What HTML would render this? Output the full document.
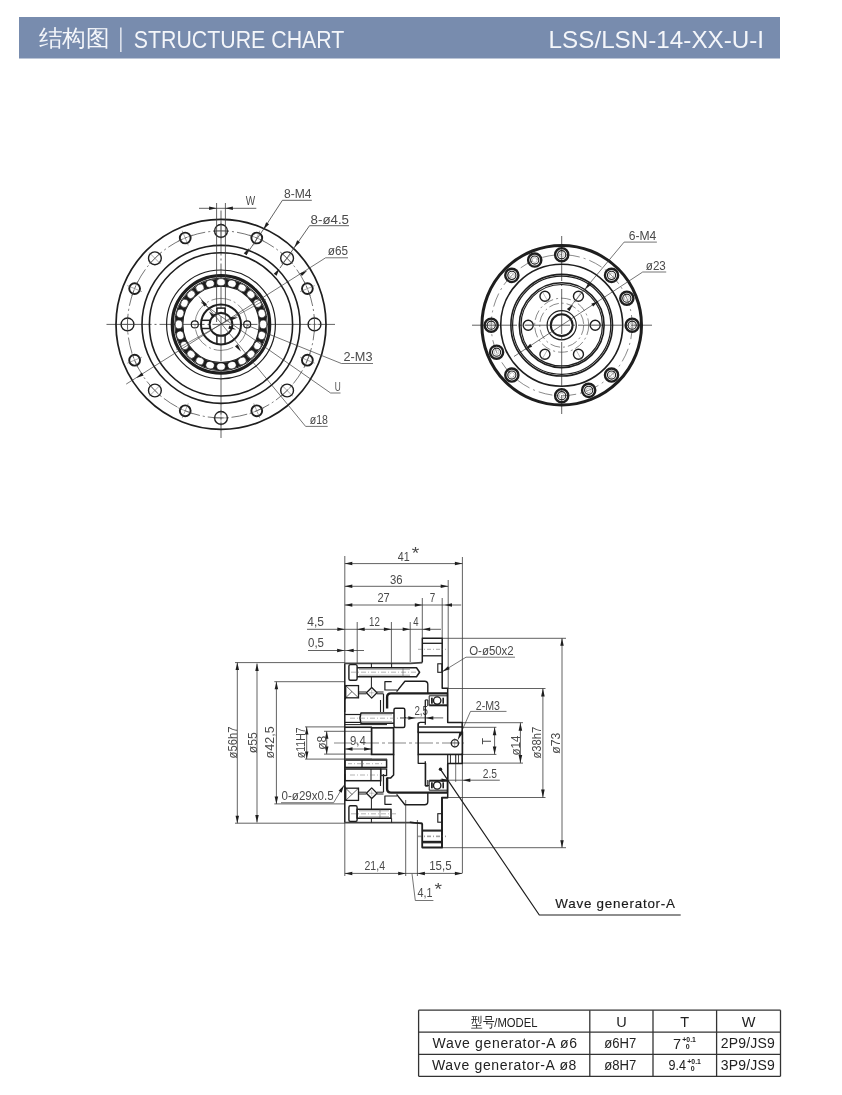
<!DOCTYPE html>
<html><head><meta charset="utf-8"><style>
html,body{margin:0;padding:0;background:#fff;width:842px;height:1095px;overflow:hidden}
svg{display:block;font-family:"Liberation Sans",sans-serif;will-change:transform}
</style></head><body>
<svg width="842" height="1095" viewBox="0 0 842 1095">
<rect width="842" height="1095" fill="#fff"/>
<rect x="19" y="17" width="761" height="41.5" fill="#788cae"/>
<text x="38.5" y="46.3" font-size="23" fill="#f4f6fa" text-anchor="start" font-family="Liberation Sans" font-weight="normal" textLength="71" lengthAdjust="spacingAndGlyphs">结构图</text>
<rect x="120.2" y="27.5" width="1.3" height="24.5" fill="#f4f6fa"/>
<text x="133.8" y="48" font-size="24.2" fill="#f4f6fa" text-anchor="start" font-family="Liberation Sans" font-weight="normal" textLength="210.5" lengthAdjust="spacingAndGlyphs">STRUCTURE CHART</text>
<text x="548.6" y="47.9" font-size="24" fill="#f4f6fa" text-anchor="start" font-family="Liberation Sans" font-weight="normal" textLength="215.5" lengthAdjust="spacingAndGlyphs">LSS/LSN-14-XX-U-I</text>
<line x1="106.5" y1="324.4" x2="335" y2="324.4" stroke="#3a3a3a" stroke-width="0.8" stroke-dasharray="45 3 2 3"/>
<line x1="221" y1="210.5" x2="221" y2="438" stroke="#3a3a3a" stroke-width="0.8" stroke-dasharray="45 3 2 3"/>
<circle cx="221" cy="324.4" r="105" stroke="#1e1e1e" stroke-width="1.7" fill="none"/>
<circle cx="221" cy="324.4" r="79" stroke="#1e1e1e" stroke-width="1.6" fill="none"/>
<circle cx="221" cy="324.4" r="71.6" stroke="#1e1e1e" stroke-width="1.6" fill="none"/>
<circle cx="221" cy="324.4" r="54.4" stroke="#1e1e1e" stroke-width="1.2" fill="none"/>
<circle cx="221" cy="324.4" r="48.7" stroke="#1e1e1e" stroke-width="3.2" fill="none"/>
<circle cx="221" cy="324.4" r="46.3" stroke="#1e1e1e" stroke-width="1" fill="none"/>
<circle cx="221" cy="324.4" r="42.1" stroke="#1c1c1c" stroke-width="7.2" fill="none"/>
<circle cx="221" cy="324.4" r="38.2" stroke="#1e1e1e" stroke-width="1.2" fill="none"/>
<ellipse cx="263.2" cy="324.4" rx="3.6" ry="4.3" transform="rotate(0 263.2 324.4)" fill="#fff" stroke="#1c1c1c" stroke-width="0.6"/>
<ellipse cx="261.76" cy="335.32" rx="3.6" ry="4.3" transform="rotate(15 261.76 335.32)" fill="#fff" stroke="#1c1c1c" stroke-width="0.6"/>
<ellipse cx="257.55" cy="345.5" rx="3.6" ry="4.3" transform="rotate(30 257.55 345.5)" fill="#fff" stroke="#1c1c1c" stroke-width="0.6"/>
<ellipse cx="250.84" cy="354.24" rx="3.6" ry="4.3" transform="rotate(45 250.84 354.24)" fill="#fff" stroke="#1c1c1c" stroke-width="0.6"/>
<ellipse cx="242.1" cy="360.95" rx="3.6" ry="4.3" transform="rotate(60 242.1 360.95)" fill="#fff" stroke="#1c1c1c" stroke-width="0.6"/>
<ellipse cx="231.92" cy="365.16" rx="3.6" ry="4.3" transform="rotate(75 231.92 365.16)" fill="#fff" stroke="#1c1c1c" stroke-width="0.6"/>
<ellipse cx="221" cy="366.6" rx="3.6" ry="4.3" transform="rotate(90 221 366.6)" fill="#fff" stroke="#1c1c1c" stroke-width="0.6"/>
<ellipse cx="210.08" cy="365.16" rx="3.6" ry="4.3" transform="rotate(105 210.08 365.16)" fill="#fff" stroke="#1c1c1c" stroke-width="0.6"/>
<ellipse cx="199.9" cy="360.95" rx="3.6" ry="4.3" transform="rotate(120 199.9 360.95)" fill="#fff" stroke="#1c1c1c" stroke-width="0.6"/>
<ellipse cx="191.16" cy="354.24" rx="3.6" ry="4.3" transform="rotate(135 191.16 354.24)" fill="#fff" stroke="#1c1c1c" stroke-width="0.6"/>
<ellipse cx="184.45" cy="345.5" rx="3.6" ry="4.3" transform="rotate(150 184.45 345.5)" fill="#fff" stroke="#1c1c1c" stroke-width="0.6"/>
<ellipse cx="180.24" cy="335.32" rx="3.6" ry="4.3" transform="rotate(165 180.24 335.32)" fill="#fff" stroke="#1c1c1c" stroke-width="0.6"/>
<ellipse cx="178.8" cy="324.4" rx="3.6" ry="4.3" transform="rotate(180 178.8 324.4)" fill="#fff" stroke="#1c1c1c" stroke-width="0.6"/>
<ellipse cx="180.24" cy="313.48" rx="3.6" ry="4.3" transform="rotate(195 180.24 313.48)" fill="#fff" stroke="#1c1c1c" stroke-width="0.6"/>
<ellipse cx="184.45" cy="303.3" rx="3.6" ry="4.3" transform="rotate(210 184.45 303.3)" fill="#fff" stroke="#1c1c1c" stroke-width="0.6"/>
<ellipse cx="191.16" cy="294.56" rx="3.6" ry="4.3" transform="rotate(225 191.16 294.56)" fill="#fff" stroke="#1c1c1c" stroke-width="0.6"/>
<ellipse cx="199.9" cy="287.85" rx="3.6" ry="4.3" transform="rotate(240 199.9 287.85)" fill="#fff" stroke="#1c1c1c" stroke-width="0.6"/>
<ellipse cx="210.08" cy="283.64" rx="3.6" ry="4.3" transform="rotate(255 210.08 283.64)" fill="#fff" stroke="#1c1c1c" stroke-width="0.6"/>
<ellipse cx="221" cy="282.2" rx="3.6" ry="4.3" transform="rotate(270 221 282.2)" fill="#fff" stroke="#1c1c1c" stroke-width="0.6"/>
<ellipse cx="231.92" cy="283.64" rx="3.6" ry="4.3" transform="rotate(285 231.92 283.64)" fill="#fff" stroke="#1c1c1c" stroke-width="0.6"/>
<ellipse cx="242.1" cy="287.85" rx="3.6" ry="4.3" transform="rotate(300 242.1 287.85)" fill="#fff" stroke="#1c1c1c" stroke-width="0.6"/>
<ellipse cx="250.84" cy="294.56" rx="3.6" ry="4.3" transform="rotate(315 250.84 294.56)" fill="#fff" stroke="#1c1c1c" stroke-width="0.6"/>
<ellipse cx="257.55" cy="303.3" rx="3.6" ry="4.3" transform="rotate(330 257.55 303.3)" fill="#fff" stroke="#1c1c1c" stroke-width="0.6"/>
<ellipse cx="261.76" cy="313.48" rx="3.6" ry="4.3" transform="rotate(345 261.76 313.48)" fill="#fff" stroke="#1c1c1c" stroke-width="0.6"/>
<circle cx="221" cy="324.4" r="93.5" stroke="#3a3a3a" stroke-width="0.7" fill="none" stroke-dasharray="16 3 2 3"/>
<circle cx="314.5" cy="324.4" r="6.4" stroke="#1e1e1e" stroke-width="1.4" fill="none"/>
<line x1="306.5" y1="324.4" x2="322.5" y2="324.4" stroke="#555" stroke-width="0.5"/>
<line x1="314.5" y1="316.4" x2="314.5" y2="332.4" stroke="#555" stroke-width="0.5"/>
<circle cx="307.38" cy="360.18" r="5.4" stroke="#1e1e1e" stroke-width="1.9" fill="none"/>
<line x1="299.99" y1="357.12" x2="314.77" y2="363.24" stroke="#555" stroke-width="0.5"/>
<line x1="310.44" y1="352.79" x2="304.32" y2="367.57" stroke="#555" stroke-width="0.5"/>
<circle cx="287.11" cy="390.51" r="6.4" stroke="#1e1e1e" stroke-width="1.4" fill="none"/>
<line x1="281.46" y1="384.86" x2="292.77" y2="396.17" stroke="#555" stroke-width="0.5"/>
<line x1="292.77" y1="384.86" x2="281.46" y2="396.17" stroke="#555" stroke-width="0.5"/>
<circle cx="256.78" cy="410.78" r="5.4" stroke="#1e1e1e" stroke-width="1.9" fill="none"/>
<line x1="253.72" y1="403.39" x2="259.84" y2="418.17" stroke="#555" stroke-width="0.5"/>
<line x1="264.17" y1="407.72" x2="249.39" y2="413.84" stroke="#555" stroke-width="0.5"/>
<circle cx="221" cy="417.9" r="6.4" stroke="#1e1e1e" stroke-width="1.4" fill="none"/>
<line x1="221" y1="409.9" x2="221" y2="425.9" stroke="#555" stroke-width="0.5"/>
<line x1="229" y1="417.9" x2="213" y2="417.9" stroke="#555" stroke-width="0.5"/>
<circle cx="185.22" cy="410.78" r="5.4" stroke="#1e1e1e" stroke-width="1.9" fill="none"/>
<line x1="188.28" y1="403.39" x2="182.16" y2="418.17" stroke="#555" stroke-width="0.5"/>
<line x1="192.61" y1="413.84" x2="177.83" y2="407.72" stroke="#555" stroke-width="0.5"/>
<circle cx="154.89" cy="390.51" r="6.4" stroke="#1e1e1e" stroke-width="1.4" fill="none"/>
<line x1="160.54" y1="384.86" x2="149.23" y2="396.17" stroke="#555" stroke-width="0.5"/>
<line x1="160.54" y1="396.17" x2="149.23" y2="384.86" stroke="#555" stroke-width="0.5"/>
<circle cx="134.62" cy="360.18" r="5.4" stroke="#1e1e1e" stroke-width="1.9" fill="none"/>
<line x1="142.01" y1="357.12" x2="127.23" y2="363.24" stroke="#555" stroke-width="0.5"/>
<line x1="137.68" y1="367.57" x2="131.56" y2="352.79" stroke="#555" stroke-width="0.5"/>
<circle cx="127.5" cy="324.4" r="6.4" stroke="#1e1e1e" stroke-width="1.4" fill="none"/>
<line x1="135.5" y1="324.4" x2="119.5" y2="324.4" stroke="#555" stroke-width="0.5"/>
<line x1="127.5" y1="332.4" x2="127.5" y2="316.4" stroke="#555" stroke-width="0.5"/>
<circle cx="134.62" cy="288.62" r="5.4" stroke="#1e1e1e" stroke-width="1.9" fill="none"/>
<line x1="142.01" y1="291.68" x2="127.23" y2="285.56" stroke="#555" stroke-width="0.5"/>
<line x1="131.56" y1="296.01" x2="137.68" y2="281.23" stroke="#555" stroke-width="0.5"/>
<circle cx="154.89" cy="258.29" r="6.4" stroke="#1e1e1e" stroke-width="1.4" fill="none"/>
<line x1="160.54" y1="263.94" x2="149.23" y2="252.63" stroke="#555" stroke-width="0.5"/>
<line x1="149.23" y1="263.94" x2="160.54" y2="252.63" stroke="#555" stroke-width="0.5"/>
<circle cx="185.22" cy="238.02" r="5.4" stroke="#1e1e1e" stroke-width="1.9" fill="none"/>
<line x1="188.28" y1="245.41" x2="182.16" y2="230.63" stroke="#555" stroke-width="0.5"/>
<line x1="177.83" y1="241.08" x2="192.61" y2="234.96" stroke="#555" stroke-width="0.5"/>
<circle cx="221" cy="230.9" r="6.4" stroke="#1e1e1e" stroke-width="1.4" fill="none"/>
<line x1="221" y1="238.9" x2="221" y2="222.9" stroke="#555" stroke-width="0.5"/>
<line x1="213" y1="230.9" x2="229" y2="230.9" stroke="#555" stroke-width="0.5"/>
<circle cx="256.78" cy="238.02" r="5.4" stroke="#1e1e1e" stroke-width="1.9" fill="none"/>
<line x1="253.72" y1="245.41" x2="259.84" y2="230.63" stroke="#555" stroke-width="0.5"/>
<line x1="249.39" y1="234.96" x2="264.17" y2="241.08" stroke="#555" stroke-width="0.5"/>
<circle cx="287.11" cy="258.29" r="6.4" stroke="#1e1e1e" stroke-width="1.4" fill="none"/>
<line x1="281.46" y1="263.94" x2="292.77" y2="252.63" stroke="#555" stroke-width="0.5"/>
<line x1="281.46" y1="252.63" x2="292.77" y2="263.94" stroke="#555" stroke-width="0.5"/>
<circle cx="307.38" cy="288.62" r="5.4" stroke="#1e1e1e" stroke-width="1.9" fill="none"/>
<line x1="299.99" y1="291.68" x2="314.77" y2="285.56" stroke="#555" stroke-width="0.5"/>
<line x1="304.32" y1="281.23" x2="310.44" y2="296.01" stroke="#555" stroke-width="0.5"/>
<line x1="216.6" y1="203" x2="216.6" y2="322" stroke="#3a3a3a" stroke-width="0.8"/>
<line x1="225.4" y1="203" x2="225.4" y2="322" stroke="#3a3a3a" stroke-width="0.8"/>
<line x1="199" y1="208.3" x2="256.3" y2="208.3" stroke="#3a3a3a" stroke-width="0.8"/>
<polygon points="216.6,208.3 209.1,210.05 209.1,206.55" fill="#1e1e1e"/>
<polygon points="225.4,208.3 232.9,206.55 232.9,210.05" fill="#1e1e1e"/>
<text x="245.8" y="205" font-size="13.2" fill="#4a4a4a" text-anchor="start" font-family="Liberation Sans" font-weight="normal" textLength="9.4" lengthAdjust="spacingAndGlyphs">W</text>
<circle cx="221" cy="324.4" r="26" stroke="#3a3a3a" stroke-width="0.6" fill="none" stroke-dasharray="20 3 2 3"/>
<circle cx="194.8" cy="324.4" r="3.5" stroke="#1e1e1e" stroke-width="1.2" fill="none"/>
<circle cx="247.2" cy="324.4" r="3.5" stroke="#1e1e1e" stroke-width="1.2" fill="none"/>
<circle cx="221" cy="324.4" r="20" stroke="#1e1e1e" stroke-width="2" fill="none"/>
<circle cx="221" cy="324.4" r="11.4" stroke="#1e1e1e" stroke-width="1.9" fill="none"/>
<line x1="225.1" y1="335.4" x2="225.1" y2="344" stroke="#1e1e1e" stroke-width="1.5"/>
<line x1="216.9" y1="344" x2="216.9" y2="335.4" stroke="#1e1e1e" stroke-width="1.5"/>
<line x1="210" y1="328.5" x2="201.4" y2="328.5" stroke="#1e1e1e" stroke-width="1.5"/>
<line x1="201.4" y1="320.3" x2="210" y2="320.3" stroke="#1e1e1e" stroke-width="1.5"/>
<line x1="216.9" y1="313.4" x2="216.9" y2="308.1" stroke="#1e1e1e" stroke-width="1.5"/>
<line x1="225.1" y1="308.1" x2="225.1" y2="313.4" stroke="#1e1e1e" stroke-width="1.5"/>
<line x1="216.9" y1="308.1" x2="225.1" y2="308.1" stroke="#1e1e1e" stroke-width="1.5"/>
<polyline points="311.8,200.3 282.4,200.3 263,230" stroke="#3a3a3a" stroke-width="0.8" fill="none" stroke-linejoin="round"/>
<polygon points="263.5,229.5 266.12,222.26 269.05,224.16" fill="#1e1e1e"/>
<line x1="263" y1="230" x2="246" y2="255" stroke="#3a3a3a" stroke-width="0.8"/>
<polygon points="249.3,247.9 246.66,255.13 243.73,253.22" fill="#1e1e1e"/>
<text x="284" y="197.5" font-size="13.2" fill="#4a4a4a" text-anchor="start" font-family="Liberation Sans" font-weight="normal" textLength="27.5" lengthAdjust="spacingAndGlyphs">8-M4</text>
<polyline points="349,225.7 309.5,225.7 294,248" stroke="#3a3a3a" stroke-width="0.8" fill="none" stroke-linejoin="round"/>
<polygon points="294.3,247.5 297.17,240.35 300.04,242.36" fill="#1e1e1e"/>
<line x1="294" y1="248" x2="280" y2="268" stroke="#3a3a3a" stroke-width="0.8"/>
<polygon points="279.5,268.5 276.63,275.65 273.76,273.64" fill="#1e1e1e"/>
<text x="310.6" y="223.6" font-size="13.2" fill="#4a4a4a" text-anchor="start" font-family="Liberation Sans" font-weight="normal" textLength="38.4" lengthAdjust="spacingAndGlyphs">8-ø4.5</text>
<polyline points="348,257.8 325.6,257.8 126.2,384.1" stroke="#3a3a3a" stroke-width="0.7" fill="none" stroke-linejoin="round"/>
<polygon points="307.3,270.6 301.91,276.1 300.03,273.14" fill="#1e1e1e"/>
<polygon points="136.3,378 141.69,372.5 143.57,375.46" fill="#1e1e1e"/>
<text x="327.8" y="254.8" font-size="13.2" fill="#4a4a4a" text-anchor="start" font-family="Liberation Sans" font-weight="normal" textLength="20.2" lengthAdjust="spacingAndGlyphs">ø65</text>
<polyline points="373,363.5 341.4,363.5 247.2,325.4" stroke="#3a3a3a" stroke-width="0.7" fill="none" stroke-linejoin="round"/>
<text x="343.5" y="360.5" font-size="13.2" fill="#4a4a4a" text-anchor="start" font-family="Liberation Sans" font-weight="normal" textLength="29" lengthAdjust="spacingAndGlyphs">2-M3</text>
<polyline points="340.5,393 330.6,393 201,302.4" stroke="#3a3a3a" stroke-width="0.7" fill="none" stroke-linejoin="round"/>
<text x="334.7" y="391" font-size="13.2" fill="#4a4a4a" text-anchor="start" font-family="Liberation Sans" font-weight="normal" textLength="6" lengthAdjust="spacingAndGlyphs">U</text>
<polygon points="209,311.4 215.32,315.8 212.72,318.14" fill="#1e1e1e"/>
<polyline points="327.7,426.4 305.6,426.4 199,296.4" stroke="#3a3a3a" stroke-width="0.7" fill="none" stroke-linejoin="round"/>
<text x="309.8" y="424" font-size="13.2" fill="#4a4a4a" text-anchor="start" font-family="Liberation Sans" font-weight="normal" textLength="18.2" lengthAdjust="spacingAndGlyphs">ø18</text>
<polygon points="201,299.4 207,304.23 204.24,306.39" fill="#1e1e1e"/>
<polygon points="241,351.4 235,346.57 237.76,344.41" fill="#1e1e1e"/>
<line x1="176" y1="349.4" x2="266" y2="299.4" stroke="#3a3a3a" stroke-width="0.6"/>
<polygon points="236,329.4 228.33,328.75 229.41,325.42" fill="#1e1e1e"/>
<polygon points="238,317.4 230.92,320.43 230.31,316.98" fill="#1e1e1e"/>
<line x1="472" y1="325.2" x2="652" y2="325.2" stroke="#3a3a3a" stroke-width="0.8" stroke-dasharray="45 3 2 3"/>
<line x1="561.7" y1="236" x2="561.7" y2="414" stroke="#3a3a3a" stroke-width="0.8" stroke-dasharray="45 3 2 3"/>
<circle cx="561.7" cy="325.2" r="79.8" stroke="#1e1e1e" stroke-width="3" fill="none"/>
<circle cx="561.7" cy="325.2" r="61" stroke="#1e1e1e" stroke-width="1.6" fill="none"/>
<circle cx="561.7" cy="325.2" r="50.8" stroke="#1e1e1e" stroke-width="1.6" fill="none"/>
<circle cx="561.7" cy="325.2" r="49.1" stroke="#1e1e1e" stroke-width="1.2" fill="none"/>
<circle cx="561.7" cy="325.2" r="42.4" stroke="#1e1e1e" stroke-width="1.6" fill="none"/>
<circle cx="561.7" cy="325.2" r="40.7" stroke="#1e1e1e" stroke-width="1.2" fill="none"/>
<circle cx="561.7" cy="325.2" r="70.5" stroke="#3a3a3a" stroke-width="0.6" fill="none" stroke-dasharray="14 4 2 4"/>
<circle cx="561.7" cy="325.2" r="27" stroke="#3a3a3a" stroke-width="0.6" fill="none" stroke-dasharray="10 3 2 3"/>
<circle cx="561.7" cy="325.2" r="22" stroke="#3a3a3a" stroke-width="0.6" fill="none" stroke-dasharray="10 3 2 3"/>
<circle cx="632.2" cy="325.2" r="6.6" stroke="#1e1e1e" stroke-width="2.4" fill="none"/>
<circle cx="632.2" cy="325.2" r="4.1" stroke="#1e1e1e" stroke-width="1.1" fill="none"/>
<polygon points="634.8,325.2 633.5,327.45 630.9,327.45 629.6,325.2 630.9,322.95 633.5,322.95" stroke="#888" stroke-width="0.5" fill="none" stroke-linejoin="round"/>
<circle cx="626.83" cy="298.22" r="6.6" stroke="#1e1e1e" stroke-width="2.4" fill="none"/>
<circle cx="626.83" cy="298.22" r="4.1" stroke="#1e1e1e" stroke-width="1.1" fill="none"/>
<polygon points="629.24,299.22 627.17,300.8 624.77,299.8 624.43,297.23 626.49,295.64 628.9,296.64" stroke="#888" stroke-width="0.5" fill="none" stroke-linejoin="round"/>
<circle cx="611.55" cy="275.35" r="6.6" stroke="#1e1e1e" stroke-width="2.4" fill="none"/>
<circle cx="611.55" cy="275.35" r="4.1" stroke="#1e1e1e" stroke-width="1.1" fill="none"/>
<polygon points="613.39,277.19 610.88,277.86 609.04,276.02 609.71,273.51 612.22,272.84 614.06,274.68" stroke="#888" stroke-width="0.5" fill="none" stroke-linejoin="round"/>
<circle cx="561.7" cy="254.7" r="6.6" stroke="#1e1e1e" stroke-width="2.4" fill="none"/>
<circle cx="561.7" cy="254.7" r="4.1" stroke="#1e1e1e" stroke-width="1.1" fill="none"/>
<polygon points="561.7,257.3 559.45,256 559.45,253.4 561.7,252.1 563.95,253.4 563.95,256" stroke="#888" stroke-width="0.5" fill="none" stroke-linejoin="round"/>
<circle cx="534.72" cy="260.07" r="6.6" stroke="#1e1e1e" stroke-width="2.4" fill="none"/>
<circle cx="534.72" cy="260.07" r="4.1" stroke="#1e1e1e" stroke-width="1.1" fill="none"/>
<polygon points="533.73,262.47 532.14,260.41 533.14,258 535.72,257.66 537.3,259.73 536.3,262.13" stroke="#888" stroke-width="0.5" fill="none" stroke-linejoin="round"/>
<circle cx="511.85" cy="275.35" r="6.6" stroke="#1e1e1e" stroke-width="2.4" fill="none"/>
<circle cx="511.85" cy="275.35" r="4.1" stroke="#1e1e1e" stroke-width="1.1" fill="none"/>
<polygon points="510.01,277.19 509.34,274.68 511.18,272.84 513.69,273.51 514.36,276.02 512.52,277.86" stroke="#888" stroke-width="0.5" fill="none" stroke-linejoin="round"/>
<circle cx="491.2" cy="325.2" r="6.6" stroke="#1e1e1e" stroke-width="2.4" fill="none"/>
<circle cx="491.2" cy="325.2" r="4.1" stroke="#1e1e1e" stroke-width="1.1" fill="none"/>
<polygon points="488.6,325.2 489.9,322.95 492.5,322.95 493.8,325.2 492.5,327.45 489.9,327.45" stroke="#888" stroke-width="0.5" fill="none" stroke-linejoin="round"/>
<circle cx="496.57" cy="352.18" r="6.6" stroke="#1e1e1e" stroke-width="2.4" fill="none"/>
<circle cx="496.57" cy="352.18" r="4.1" stroke="#1e1e1e" stroke-width="1.1" fill="none"/>
<polygon points="494.16,351.18 496.23,349.6 498.63,350.6 498.97,353.17 496.91,354.76 494.5,353.76" stroke="#888" stroke-width="0.5" fill="none" stroke-linejoin="round"/>
<circle cx="511.85" cy="375.05" r="6.6" stroke="#1e1e1e" stroke-width="2.4" fill="none"/>
<circle cx="511.85" cy="375.05" r="4.1" stroke="#1e1e1e" stroke-width="1.1" fill="none"/>
<polygon points="510.01,373.21 512.52,372.54 514.36,374.38 513.69,376.89 511.18,377.56 509.34,375.72" stroke="#888" stroke-width="0.5" fill="none" stroke-linejoin="round"/>
<circle cx="561.7" cy="395.7" r="6.6" stroke="#1e1e1e" stroke-width="2.4" fill="none"/>
<circle cx="561.7" cy="395.7" r="4.1" stroke="#1e1e1e" stroke-width="1.1" fill="none"/>
<polygon points="561.7,393.1 563.95,394.4 563.95,397 561.7,398.3 559.45,397 559.45,394.4" stroke="#888" stroke-width="0.5" fill="none" stroke-linejoin="round"/>
<circle cx="588.68" cy="390.33" r="6.6" stroke="#1e1e1e" stroke-width="2.4" fill="none"/>
<circle cx="588.68" cy="390.33" r="4.1" stroke="#1e1e1e" stroke-width="1.1" fill="none"/>
<polygon points="589.67,387.93 591.26,389.99 590.26,392.4 587.68,392.74 586.1,390.67 587.1,388.27" stroke="#888" stroke-width="0.5" fill="none" stroke-linejoin="round"/>
<circle cx="611.55" cy="375.05" r="6.6" stroke="#1e1e1e" stroke-width="2.4" fill="none"/>
<circle cx="611.55" cy="375.05" r="4.1" stroke="#1e1e1e" stroke-width="1.1" fill="none"/>
<polygon points="613.39,373.21 614.06,375.72 612.22,377.56 609.71,376.89 609.04,374.38 610.88,372.54" stroke="#888" stroke-width="0.5" fill="none" stroke-linejoin="round"/>
<circle cx="595.2" cy="325.2" r="5" stroke="#1e1e1e" stroke-width="1.4" fill="none"/>
<line x1="588.7" y1="325.2" x2="601.7" y2="325.2" stroke="#777" stroke-width="0.5"/>
<circle cx="578.45" cy="354.21" r="5" stroke="#1e1e1e" stroke-width="1.4" fill="none"/>
<line x1="575.2" y1="348.58" x2="581.7" y2="359.84" stroke="#777" stroke-width="0.5"/>
<circle cx="544.95" cy="354.21" r="5" stroke="#1e1e1e" stroke-width="1.4" fill="none"/>
<line x1="548.2" y1="348.58" x2="541.7" y2="359.84" stroke="#777" stroke-width="0.5"/>
<circle cx="528.2" cy="325.2" r="5" stroke="#1e1e1e" stroke-width="1.4" fill="none"/>
<line x1="534.7" y1="325.2" x2="521.7" y2="325.2" stroke="#777" stroke-width="0.5"/>
<circle cx="544.95" cy="296.19" r="5" stroke="#1e1e1e" stroke-width="1.4" fill="none"/>
<line x1="548.2" y1="301.82" x2="541.7" y2="290.56" stroke="#777" stroke-width="0.5"/>
<circle cx="578.45" cy="296.19" r="5" stroke="#1e1e1e" stroke-width="1.4" fill="none"/>
<line x1="575.2" y1="301.82" x2="581.7" y2="290.56" stroke="#777" stroke-width="0.5"/>
<circle cx="561.7" cy="325.2" r="14.6" stroke="#1e1e1e" stroke-width="1.2" fill="none"/>
<circle cx="561.7" cy="325.2" r="10.9" stroke="#1e1e1e" stroke-width="2" fill="none"/>
<polyline points="656.9,242.1 624.1,242.1 570,307" stroke="#3a3a3a" stroke-width="0.7" fill="none" stroke-linejoin="round"/>
<polygon points="585,289.5 588.46,282.62 591.15,284.86" fill="#1e1e1e"/>
<polygon points="573,304.4 569.54,311.28 566.85,309.04" fill="#1e1e1e"/>
<text x="628.7" y="239.8" font-size="13.2" fill="#4a4a4a" text-anchor="start" font-family="Liberation Sans" font-weight="normal" textLength="27.6" lengthAdjust="spacingAndGlyphs">6-M4</text>
<polyline points="666.2,272 642.7,272 514,356.5" stroke="#3a3a3a" stroke-width="0.7" fill="none" stroke-linejoin="round"/>
<polygon points="598.5,301 593.19,306.58 591.27,303.66" fill="#1e1e1e"/>
<polygon points="524.9,349.4 530.21,343.82 532.13,346.74" fill="#1e1e1e"/>
<text x="645.8" y="269.7" font-size="13.2" fill="#4a4a4a" text-anchor="start" font-family="Liberation Sans" font-weight="normal" textLength="20" lengthAdjust="spacingAndGlyphs">ø23</text>
<line x1="334" y1="743" x2="464" y2="743" stroke="#555" stroke-width="0.7" stroke-dasharray="18 3 3 3"/>
<line x1="344.8" y1="556" x2="344.8" y2="663" stroke="#3a3a3a" stroke-width="0.8"/>
<line x1="462.4" y1="557" x2="462.4" y2="873" stroke="#3a3a3a" stroke-width="0.8"/>
<line x1="448.2" y1="580" x2="448.2" y2="688" stroke="#3a3a3a" stroke-width="0.8"/>
<line x1="422.3" y1="598" x2="422.3" y2="638" stroke="#3a3a3a" stroke-width="0.8"/>
<line x1="442.2" y1="598" x2="442.2" y2="638" stroke="#3a3a3a" stroke-width="0.8"/>
<line x1="357.2" y1="622" x2="357.2" y2="664" stroke="#3a3a3a" stroke-width="0.8"/>
<line x1="391.4" y1="622" x2="391.4" y2="663" stroke="#3a3a3a" stroke-width="0.8"/>
<line x1="410.2" y1="622" x2="410.2" y2="662" stroke="#3a3a3a" stroke-width="0.8"/>
<line x1="344.8" y1="563.6" x2="462.4" y2="563.6" stroke="#3a3a3a" stroke-width="0.8"/>
<polygon points="344.8,563.6 352.3,561.85 352.3,565.35" fill="#1e1e1e"/>
<polygon points="462.4,563.6 454.9,565.35 454.9,561.85" fill="#1e1e1e"/>
<text x="397.7" y="560.8" font-size="13.2" fill="#4a4a4a" text-anchor="start" font-family="Liberation Sans" font-weight="normal" textLength="11.9" lengthAdjust="spacingAndGlyphs">41</text>
<text x="411.8" y="558.5" font-size="17" fill="#4a4a4a" text-anchor="start" font-family="Liberation Sans" font-weight="normal" textLength="7.5" lengthAdjust="spacingAndGlyphs">*</text>
<line x1="344.8" y1="586.3" x2="448.2" y2="586.3" stroke="#3a3a3a" stroke-width="0.8"/>
<polygon points="344.8,586.3 352.3,584.55 352.3,588.05" fill="#1e1e1e"/>
<polygon points="448.2,586.3 440.7,588.05 440.7,584.55" fill="#1e1e1e"/>
<text x="389.9" y="584" font-size="13.2" fill="#4a4a4a" text-anchor="start" font-family="Liberation Sans" font-weight="normal" textLength="12.6" lengthAdjust="spacingAndGlyphs">36</text>
<line x1="344.8" y1="605" x2="461.2" y2="605" stroke="#3a3a3a" stroke-width="0.8"/>
<polygon points="344.8,605 352.3,603.25 352.3,606.75" fill="#1e1e1e"/>
<polygon points="422.3,605 414.8,606.75 414.8,603.25" fill="#1e1e1e"/>
<polygon points="444.5,605 452,603.25 452,606.75" fill="#1e1e1e"/>
<text x="377.4" y="601.8" font-size="13.2" fill="#4a4a4a" text-anchor="start" font-family="Liberation Sans" font-weight="normal" textLength="12.3" lengthAdjust="spacingAndGlyphs">27</text>
<text x="429.8" y="602.3" font-size="13.2" fill="#4a4a4a" text-anchor="start" font-family="Liberation Sans" font-weight="normal" textLength="5.5" lengthAdjust="spacingAndGlyphs">7</text>
<line x1="307" y1="629.3" x2="441" y2="629.3" stroke="#3a3a3a" stroke-width="0.8"/>
<polygon points="344.8,629.3 337.3,631.05 337.3,627.55" fill="#1e1e1e"/>
<polygon points="357.2,629.3 364.7,627.55 364.7,631.05" fill="#1e1e1e"/>
<polygon points="391.4,629.3 383.9,631.05 383.9,627.55" fill="#1e1e1e"/>
<polygon points="410.2,629.3 402.7,631.05 402.7,627.55" fill="#1e1e1e"/>
<polygon points="422.7,629.3 430.2,627.55 430.2,631.05" fill="#1e1e1e"/>
<text x="307.3" y="625.5" font-size="13.2" fill="#4a4a4a" text-anchor="start" font-family="Liberation Sans" font-weight="normal" textLength="16.7" lengthAdjust="spacingAndGlyphs">4,5</text>
<text x="369" y="625.5" font-size="13.2" fill="#4a4a4a" text-anchor="start" font-family="Liberation Sans" font-weight="normal" textLength="10.8" lengthAdjust="spacingAndGlyphs">12</text>
<text x="413.2" y="626.1" font-size="13.2" fill="#4a4a4a" text-anchor="start" font-family="Liberation Sans" font-weight="normal" textLength="5.3" lengthAdjust="spacingAndGlyphs">4</text>
<line x1="308" y1="650.5" x2="364" y2="650.5" stroke="#3a3a3a" stroke-width="0.8"/>
<polygon points="344.6,650.5 337.1,652.25 337.1,648.75" fill="#1e1e1e"/>
<polygon points="346.2,650.5 353.7,648.75 353.7,652.25" fill="#1e1e1e"/>
<text x="308" y="647" font-size="13.2" fill="#4a4a4a" text-anchor="start" font-family="Liberation Sans" font-weight="normal" textLength="16" lengthAdjust="spacingAndGlyphs">0,5</text>
<line x1="442.2" y1="638.3" x2="566" y2="638.3" stroke="#3a3a3a" stroke-width="0.8"/>
<line x1="442.2" y1="847.7" x2="566" y2="847.7" stroke="#3a3a3a" stroke-width="0.8"/>
<line x1="448" y1="688.5" x2="545.5" y2="688.5" stroke="#3a3a3a" stroke-width="0.8"/>
<line x1="448" y1="797.5" x2="545.5" y2="797.5" stroke="#3a3a3a" stroke-width="0.8"/>
<line x1="462.2" y1="722.7" x2="523" y2="722.7" stroke="#3a3a3a" stroke-width="0.8"/>
<line x1="462.2" y1="763.1" x2="523" y2="763.1" stroke="#3a3a3a" stroke-width="0.8"/>
<line x1="462.2" y1="727.3" x2="496.4" y2="727.3" stroke="#3a3a3a" stroke-width="0.8"/>
<line x1="462.2" y1="754.4" x2="496.4" y2="754.4" stroke="#3a3a3a" stroke-width="0.8"/>
<line x1="562" y1="638.3" x2="562" y2="847.7" stroke="#3a3a3a" stroke-width="0.8"/>
<polygon points="562,638.3 563.75,645.8 560.25,645.8" fill="#1e1e1e"/>
<polygon points="562,847.7 560.25,840.2 563.75,840.2" fill="#1e1e1e"/>
<text x="560.2" y="743.3" font-size="13.2" fill="#4a4a4a" text-anchor="middle" font-family="Liberation Sans" font-weight="normal" transform="rotate(-90 560.2 743.3)" textLength="21" lengthAdjust="spacingAndGlyphs">ø73</text>
<line x1="542.9" y1="688.5" x2="542.9" y2="797.5" stroke="#3a3a3a" stroke-width="0.8"/>
<polygon points="542.9,688.5 544.7,696.5 541.1,696.5" fill="#1e1e1e"/>
<polygon points="542.9,797.5 541.1,789.5 544.7,789.5" fill="#1e1e1e"/>
<text x="540.7" y="742.6" font-size="13.2" fill="#4a4a4a" text-anchor="middle" font-family="Liberation Sans" font-weight="normal" transform="rotate(-90 540.7 742.6)" textLength="32" lengthAdjust="spacingAndGlyphs">ø38h7</text>
<line x1="520.4" y1="722.7" x2="520.4" y2="763.1" stroke="#3a3a3a" stroke-width="0.8"/>
<polygon points="520.4,722.7 522.2,730.7 518.6,730.7" fill="#1e1e1e"/>
<polygon points="520.4,763.1 518.6,755.1 522.2,755.1" fill="#1e1e1e"/>
<text x="519.8" y="745.6" font-size="13.2" fill="#4a4a4a" text-anchor="middle" font-family="Liberation Sans" font-weight="normal" transform="rotate(-90 519.8 745.6)" textLength="20" lengthAdjust="spacingAndGlyphs">ø14</text>
<line x1="494.6" y1="727.3" x2="494.6" y2="754.4" stroke="#3a3a3a" stroke-width="0.8"/>
<polygon points="494.6,727.3 496.4,735.3 492.8,735.3" fill="#1e1e1e"/>
<polygon points="494.6,754.4 492.8,746.4 496.4,746.4" fill="#1e1e1e"/>
<text x="491" y="741.2" font-size="13.2" fill="#4a4a4a" text-anchor="middle" font-family="Liberation Sans" font-weight="normal" transform="rotate(-90 491 741.2)" textLength="6.5" lengthAdjust="spacingAndGlyphs">T</text>
<line x1="235" y1="662.6" x2="345" y2="662.6" stroke="#3a3a3a" stroke-width="0.8"/>
<line x1="235" y1="823.2" x2="345" y2="823.2" stroke="#3a3a3a" stroke-width="0.8"/>
<line x1="237.3" y1="662.6" x2="237.3" y2="823.2" stroke="#3a3a3a" stroke-width="0.8"/>
<polygon points="237.3,662.6 239.05,670.1 235.55,670.1" fill="#1e1e1e"/>
<polygon points="237.3,823.2 235.55,815.7 239.05,815.7" fill="#1e1e1e"/>
<text x="237.1" y="742.4" font-size="13.2" fill="#4a4a4a" text-anchor="middle" font-family="Liberation Sans" font-weight="normal" transform="rotate(-90 237.1 742.4)" textLength="32" lengthAdjust="spacingAndGlyphs">ø56h7</text>
<line x1="257" y1="663.5" x2="257" y2="822.5" stroke="#3a3a3a" stroke-width="0.8"/>
<polygon points="257,663.5 258.75,671 255.25,671" fill="#1e1e1e"/>
<polygon points="257,822.5 255.25,815 258.75,815" fill="#1e1e1e"/>
<text x="256.6" y="742.8" font-size="13.2" fill="#4a4a4a" text-anchor="middle" font-family="Liberation Sans" font-weight="normal" transform="rotate(-90 256.6 742.8)" textLength="21" lengthAdjust="spacingAndGlyphs">ø55</text>
<line x1="274.3" y1="681.7" x2="345" y2="681.7" stroke="#3a3a3a" stroke-width="0.8"/>
<line x1="274.3" y1="803.9" x2="345" y2="803.9" stroke="#3a3a3a" stroke-width="0.8"/>
<line x1="276.4" y1="681.7" x2="276.4" y2="803.9" stroke="#3a3a3a" stroke-width="0.8"/>
<polygon points="276.4,681.7 278.15,689.2 274.65,689.2" fill="#1e1e1e"/>
<polygon points="276.4,803.9 274.65,796.4 278.15,796.4" fill="#1e1e1e"/>
<text x="273.6" y="742.4" font-size="13.2" fill="#4a4a4a" text-anchor="middle" font-family="Liberation Sans" font-weight="normal" transform="rotate(-90 273.6 742.4)" textLength="32" lengthAdjust="spacingAndGlyphs">ø42,5</text>
<line x1="305" y1="726.9" x2="372" y2="726.9" stroke="#3a3a3a" stroke-width="0.8"/>
<line x1="305" y1="759.1" x2="372" y2="759.1" stroke="#3a3a3a" stroke-width="0.8"/>
<line x1="306.7" y1="726.9" x2="306.7" y2="759.1" stroke="#3a3a3a" stroke-width="0.8"/>
<polygon points="306.7,726.9 308.45,734.4 304.95,734.4" fill="#1e1e1e"/>
<polygon points="306.7,759.1 304.95,751.6 308.45,751.6" fill="#1e1e1e"/>
<text x="305.5" y="742.8" font-size="13.2" fill="#4a4a4a" text-anchor="middle" font-family="Liberation Sans" font-weight="normal" transform="rotate(-90 305.5 742.8)" textLength="31" lengthAdjust="spacingAndGlyphs">ø11H7</text>
<line x1="324" y1="731.3" x2="372" y2="731.3" stroke="#3a3a3a" stroke-width="0.8"/>
<line x1="324" y1="754.1" x2="372" y2="754.1" stroke="#3a3a3a" stroke-width="0.8"/>
<line x1="326.7" y1="731.3" x2="326.7" y2="754.1" stroke="#3a3a3a" stroke-width="0.8"/>
<polygon points="326.7,731.3 328.45,738.8 324.95,738.8" fill="#1e1e1e"/>
<polygon points="326.7,754.1 324.95,746.6 328.45,746.6" fill="#1e1e1e"/>
<text x="325.7" y="742.8" font-size="13.2" fill="#4a4a4a" text-anchor="middle" font-family="Liberation Sans" font-weight="normal" transform="rotate(-90 325.7 742.8)" textLength="14" lengthAdjust="spacingAndGlyphs">ø8</text>
<line x1="345" y1="749" x2="371.6" y2="749" stroke="#3a3a3a" stroke-width="0.8"/>
<polygon points="345,749 352.5,747.25 352.5,750.75" fill="#1e1e1e"/>
<polygon points="371.6,749 364.1,750.75 364.1,747.25" fill="#1e1e1e"/>
<text x="350" y="744.9" font-size="13.2" fill="#4a4a4a" text-anchor="start" font-family="Liberation Sans" font-weight="normal" textLength="15.8" lengthAdjust="spacingAndGlyphs">9,4</text>
<polyline points="281,802.7 333.6,802.7 344,785.3" stroke="#3a3a3a" stroke-width="0.7" fill="none" stroke-linejoin="round"/>
<polygon points="344,785.3 341.64,792.63 338.64,790.83" fill="#1e1e1e"/>
<text x="281.6" y="799.5" font-size="13.2" fill="#4a4a4a" text-anchor="start" font-family="Liberation Sans" font-weight="normal" textLength="52" lengthAdjust="spacingAndGlyphs">0-ø29x0.5</text>
<polyline points="515,657.2 466,657.2 442.5,671.6" stroke="#3a3a3a" stroke-width="0.7" fill="none" stroke-linejoin="round"/>
<polygon points="442.5,671.6 447.98,666.19 449.81,669.17" fill="#1e1e1e"/>
<text x="469.2" y="654.6" font-size="13.2" fill="#4a4a4a" text-anchor="start" font-family="Liberation Sans" font-weight="normal" textLength="44.5" lengthAdjust="spacingAndGlyphs">O-ø50x2</text>
<polyline points="506.5,711.4 470.5,711.4 458,739.6" stroke="#3a3a3a" stroke-width="0.7" fill="none" stroke-linejoin="round"/>
<polygon points="458,739.6 459.45,732.04 462.65,733.46" fill="#1e1e1e"/>
<text x="475.8" y="710.1" font-size="13.2" fill="#4a4a4a" text-anchor="start" font-family="Liberation Sans" font-weight="normal" textLength="24.2" lengthAdjust="spacingAndGlyphs">2-M3</text>
<line x1="400" y1="717.9" x2="443.2" y2="717.9" stroke="#3a3a3a" stroke-width="0.8"/>
<polygon points="415.8,717.9 408.3,719.65 408.3,716.15" fill="#1e1e1e"/>
<polygon points="425.8,717.9 433.3,716.15 433.3,719.65" fill="#1e1e1e"/>
<text x="414.4" y="715.4" font-size="13.2" fill="#4a4a4a" text-anchor="start" font-family="Liberation Sans" font-weight="normal" textLength="13.6" lengthAdjust="spacingAndGlyphs">2,5</text>
<line x1="440" y1="780.2" x2="499.8" y2="780.2" stroke="#3a3a3a" stroke-width="0.8"/>
<polygon points="462.8,780.2 470.3,778.45 470.3,781.95" fill="#1e1e1e"/>
<polygon points="449,780.2 441.5,781.95 441.5,778.45" fill="#1e1e1e"/>
<line x1="455.7" y1="755" x2="455.7" y2="782" stroke="#3a3a3a" stroke-width="0.7"/>
<text x="482.7" y="777.8" font-size="13.2" fill="#4a4a4a" text-anchor="start" font-family="Liberation Sans" font-weight="normal" textLength="14.3" lengthAdjust="spacingAndGlyphs">2.5</text>
<line x1="344.8" y1="823" x2="344.8" y2="876" stroke="#3a3a3a" stroke-width="0.8"/>
<line x1="405.7" y1="800" x2="405.7" y2="876" stroke="#3a3a3a" stroke-width="0.8"/>
<line x1="417.4" y1="820" x2="417.4" y2="876" stroke="#3a3a3a" stroke-width="0.8"/>
<line x1="344.8" y1="873.4" x2="462.4" y2="873.4" stroke="#3a3a3a" stroke-width="0.8"/>
<polygon points="344.8,873.4 352.3,871.65 352.3,875.15" fill="#1e1e1e"/>
<polygon points="405.7,873.4 398.2,875.15 398.2,871.65" fill="#1e1e1e"/>
<polygon points="417.4,873.4 424.9,871.65 424.9,875.15" fill="#1e1e1e"/>
<polygon points="462.4,873.4 454.9,875.15 454.9,871.65" fill="#1e1e1e"/>
<text x="364.5" y="869.5" font-size="13.2" fill="#4a4a4a" text-anchor="start" font-family="Liberation Sans" font-weight="normal" textLength="20.5" lengthAdjust="spacingAndGlyphs">21,4</text>
<text x="429.2" y="869.5" font-size="13.2" fill="#4a4a4a" text-anchor="start" font-family="Liberation Sans" font-weight="normal" textLength="22.4" lengthAdjust="spacingAndGlyphs">15,5</text>
<polyline points="412,873.7 415.3,900.5 433.4,900.5" stroke="#3a3a3a" stroke-width="0.7" fill="none" stroke-linejoin="round"/>
<text x="417.4" y="897.3" font-size="13.2" fill="#4a4a4a" text-anchor="start" font-family="Liberation Sans" font-weight="normal" textLength="15" lengthAdjust="spacingAndGlyphs">4,1</text>
<text x="434.6" y="895" font-size="17" fill="#4a4a4a" text-anchor="start" font-family="Liberation Sans" font-weight="normal" textLength="7.5" lengthAdjust="spacingAndGlyphs">*</text>
<polyline points="440.5,769.3 539.3,915 680.7,915" stroke="#1e1e1e" stroke-width="1.2" fill="none" stroke-linejoin="round"/>
<circle cx="440.5" cy="769.3" r="1.7" stroke="#1e1e1e" stroke-width="0" fill="#1e1e1e"/>
<text x="555.3" y="907.8" font-size="13.4" fill="#1a1a1a" text-anchor="start" font-family="Liberation Sans" font-weight="normal" textLength="119.7" lengthAdjust="spacing" stroke="#1a1a1a" stroke-width="0.15">Wave generator-A</text>
<line x1="344.8" y1="663.3" x2="344.8" y2="822.7" stroke="#1e1e1e" stroke-width="1.5"/>
<polyline points="344.8,663.3 410.2,663.3 422.3,662.6" stroke="#444" stroke-width="1.8" fill="none" stroke-linejoin="round"/>
<polyline points="344.8,822.7 410.2,822.7 422.3,823.4" stroke="#444" stroke-width="1.8" fill="none" stroke-linejoin="round"/>
<polyline points="422.3,662.6 422.3,638.3 442.2,638.3 442.2,688.3 447.7,688.3 447.7,722.6 462.2,722.6 462.2,732.4" stroke="#1e1e1e" stroke-width="1.5" fill="none" stroke-linejoin="round"/>
<polyline points="422.3,823.4 422.3,847.7 442.2,847.7 442.2,797.7 447.7,797.7 447.7,763.4 462.2,763.4 462.2,753.6" stroke="#1e1e1e" stroke-width="1.5" fill="none" stroke-linejoin="round"/>
<line x1="422.3" y1="643.3" x2="442.2" y2="643.3" stroke="#1e1e1e" stroke-width="1.3"/>
<line x1="422.3" y1="842.7" x2="442.2" y2="842.7" stroke="#1e1e1e" stroke-width="1.3"/>
<line x1="422.3" y1="655.8" x2="442.2" y2="655.8" stroke="#1e1e1e" stroke-width="1.3"/>
<line x1="422.3" y1="830.2" x2="442.2" y2="830.2" stroke="#1e1e1e" stroke-width="1.3"/>
<line x1="418" y1="649.3" x2="446" y2="649.3" stroke="#555" stroke-width="0.5" stroke-dasharray="4 2 1 2"/>
<line x1="418" y1="836.7" x2="446" y2="836.7" stroke="#555" stroke-width="0.5" stroke-dasharray="4 2 1 2"/>
<rect x="437.8" y="663.8" width="4.1" height="8.5" rx="0" stroke="#1e1e1e" stroke-width="1.1" fill="none"/>
<rect x="437.8" y="813.7" width="4.1" height="8.5" rx="0" stroke="#1e1e1e" stroke-width="1.1" fill="none"/>
<rect x="348.9" y="664.6" width="8.2" height="15.7" rx="1.5" stroke="#1e1e1e" stroke-width="1.4" fill="none"/>
<rect x="348.9" y="805.7" width="8.2" height="15.7" rx="1.5" stroke="#1e1e1e" stroke-width="1.4" fill="none"/>
<polyline points="357.1,667.8 416.5,667.8 419.6,672.2 416.5,676.7 357.1,676.7" stroke="#1e1e1e" stroke-width="1.5" fill="none" stroke-linejoin="round"/>
<line x1="359" y1="669.3" x2="410" y2="669.3" stroke="#555" stroke-width="0.5"/>
<line x1="359" y1="675.2" x2="410" y2="675.2" stroke="#555" stroke-width="0.5"/>
<line x1="351" y1="672.2" x2="420" y2="672.2" stroke="#666" stroke-width="0.5" stroke-dasharray="5 2 1 2"/>
<line x1="403" y1="667.8" x2="403" y2="676.7" stroke="#555" stroke-width="0.6"/>
<polygon points="357.1,818.2 391,818.2 391,809.3 357.1,809.3" stroke="#1e1e1e" stroke-width="1.5" fill="none" stroke-linejoin="round"/>
<line x1="359" y1="816.7" x2="389" y2="816.7" stroke="#555" stroke-width="0.5"/>
<line x1="359" y1="810.8" x2="389" y2="810.8" stroke="#555" stroke-width="0.5"/>
<line x1="351" y1="813.8" x2="396" y2="813.8" stroke="#666" stroke-width="0.5" stroke-dasharray="5 2 1 2"/>
<line x1="380" y1="818.2" x2="380" y2="809.3" stroke="#555" stroke-width="0.6"/>
<line x1="371.4" y1="663.3" x2="371.4" y2="667.8" stroke="#1e1e1e" stroke-width="1"/>
<line x1="371.4" y1="822.7" x2="371.4" y2="818.2" stroke="#1e1e1e" stroke-width="1"/>
<line x1="391.6" y1="663.3" x2="391.6" y2="667.8" stroke="#1e1e1e" stroke-width="1"/>
<line x1="391.6" y1="822.7" x2="391.6" y2="818.2" stroke="#1e1e1e" stroke-width="1"/>
<polyline points="391.7,681.7 384.9,681.7 384.9,690 397,690" stroke="#1e1e1e" stroke-width="1.2" fill="none" stroke-linejoin="round"/>
<polyline points="391.7,804.3 384.9,804.3 384.9,796 397,796" stroke="#1e1e1e" stroke-width="1.2" fill="none" stroke-linejoin="round"/>
<rect x="345.7" y="685.6" width="12.8" height="12.2" rx="0" stroke="#1e1e1e" stroke-width="1.3" fill="none"/>
<rect x="345.7" y="788.2" width="12.8" height="12.2" rx="0" stroke="#1e1e1e" stroke-width="1.3" fill="none"/>
<line x1="345.7" y1="685.6" x2="358.5" y2="697.8" stroke="#1e1e1e" stroke-width="0.7"/>
<line x1="345.7" y1="800.4" x2="358.5" y2="788.2" stroke="#1e1e1e" stroke-width="0.7"/>
<line x1="345.7" y1="697.8" x2="352" y2="691.5" stroke="#1e1e1e" stroke-width="0.7"/>
<line x1="345.7" y1="788.2" x2="352" y2="794.5" stroke="#1e1e1e" stroke-width="0.7"/>
<polygon points="371.7,687.5 377,692.8 371.7,698.1 366.4,692.8" stroke="#1e1e1e" stroke-width="1.3" fill="none" stroke-linejoin="round"/>
<line x1="371.7" y1="689.8" x2="371.7" y2="695.8" stroke="#666" stroke-width="0.4"/>
<line x1="369" y1="692.8" x2="374.5" y2="692.8" stroke="#666" stroke-width="0.4"/>
<polygon points="371.7,787.9 377,793.2 371.7,798.5 366.4,793.2" stroke="#1e1e1e" stroke-width="1.3" fill="none" stroke-linejoin="round"/>
<line x1="371.7" y1="790.2" x2="371.7" y2="796.2" stroke="#666" stroke-width="0.4"/>
<line x1="369" y1="793.2" x2="374.5" y2="793.2" stroke="#666" stroke-width="0.4"/>
<line x1="358.5" y1="692" x2="366.4" y2="692" stroke="#1e1e1e" stroke-width="1"/>
<line x1="358.5" y1="794" x2="366.4" y2="794" stroke="#1e1e1e" stroke-width="1"/>
<line x1="358.5" y1="693.8" x2="366.4" y2="693.8" stroke="#1e1e1e" stroke-width="1"/>
<line x1="358.5" y1="792.2" x2="366.4" y2="792.2" stroke="#1e1e1e" stroke-width="1"/>
<line x1="377" y1="692" x2="383.5" y2="692" stroke="#1e1e1e" stroke-width="1"/>
<line x1="377" y1="794" x2="383.5" y2="794" stroke="#1e1e1e" stroke-width="1"/>
<line x1="377" y1="693.8" x2="383.5" y2="693.8" stroke="#1e1e1e" stroke-width="1"/>
<line x1="377" y1="792.2" x2="383.5" y2="792.2" stroke="#1e1e1e" stroke-width="1"/>
<line x1="371.4" y1="676.7" x2="371.4" y2="687.5" stroke="#1e1e1e" stroke-width="1"/>
<line x1="371.4" y1="809.3" x2="371.4" y2="798.5" stroke="#1e1e1e" stroke-width="1"/>
<line x1="383.5" y1="693.8" x2="383.5" y2="712" stroke="#1e1e1e" stroke-width="1.2"/>
<line x1="383.5" y1="792.2" x2="383.5" y2="774" stroke="#1e1e1e" stroke-width="1.2"/>
<line x1="380.5" y1="700" x2="380.5" y2="712" stroke="#1e1e1e" stroke-width="1.1"/>
<line x1="380.5" y1="786" x2="380.5" y2="774" stroke="#1e1e1e" stroke-width="1.1"/>
<polyline points="345.7,697.8 344.8,700 344.8,712" stroke="#1e1e1e" stroke-width="1.2" fill="none" stroke-linejoin="round"/>
<polyline points="345.7,788.2 344.8,786 344.8,774" stroke="#1e1e1e" stroke-width="1.2" fill="none" stroke-linejoin="round"/>
<path d="M396.6,691.6 L404.9,681.2 L424.6,681.2 Q427.8,681.2 427.8,684.4 L427.8,693.4" stroke="#1e1e1e" stroke-width="1.4" fill="none" stroke-linejoin="round"/>
<path d="M396.6,794.4 L404.9,804.8 L424.6,804.8 Q427.8,804.8 427.8,801.6 L427.8,792.6" stroke="#1e1e1e" stroke-width="1.4" fill="none" stroke-linejoin="round"/>
<path d="M447.3,693.4 L391,693.4 Q387.1,693.4 387.1,697.3 L387.1,708.5" stroke="#1e1e1e" stroke-width="2.4" fill="none" stroke-linejoin="round"/>
<path d="M447.3,792.6 L391,792.6 Q387.1,792.6 387.1,788.7 L387.1,777.5" stroke="#1e1e1e" stroke-width="2.4" fill="none" stroke-linejoin="round"/>
<line x1="429.2" y1="695.8" x2="447.4" y2="695.8" stroke="#1e1e1e" stroke-width="1"/>
<line x1="429.2" y1="705.3" x2="447.4" y2="705.3" stroke="#1e1e1e" stroke-width="2"/>
<line x1="429.2" y1="695.8" x2="429.2" y2="705.3" stroke="#1e1e1e" stroke-width="1"/>
<line x1="447.4" y1="693.3" x2="447.4" y2="706.4" stroke="#1e1e1e" stroke-width="1.4"/>
<rect x="431" y="697.7" width="1.8" height="6" fill="#222"/>
<rect x="442.4" y="697.7" width="1.6" height="6" fill="#222"/>
<circle cx="437.2" cy="700.6" r="3.7" stroke="#1e1e1e" stroke-width="1.4" fill="#fff"/>
<line x1="429.2" y1="790.2" x2="447.4" y2="790.2" stroke="#1e1e1e" stroke-width="1"/>
<line x1="429.2" y1="780.7" x2="447.4" y2="780.7" stroke="#1e1e1e" stroke-width="2"/>
<line x1="429.2" y1="790.2" x2="429.2" y2="780.7" stroke="#1e1e1e" stroke-width="1"/>
<line x1="447.4" y1="792.7" x2="447.4" y2="779.6" stroke="#1e1e1e" stroke-width="1.4"/>
<rect x="431" y="782.3" width="1.8" height="6" fill="#222"/>
<rect x="442.4" y="782.3" width="1.6" height="6" fill="#222"/>
<circle cx="437.2" cy="785.4" r="3.7" stroke="#1e1e1e" stroke-width="1.4" fill="#fff"/>
<line x1="425.3" y1="699.9" x2="425.3" y2="724.8" stroke="#1e1e1e" stroke-width="1.3"/>
<line x1="425.3" y1="786.1" x2="425.3" y2="761.2" stroke="#1e1e1e" stroke-width="1.3"/>
<line x1="425.3" y1="699.9" x2="427.8" y2="699.9" stroke="#1e1e1e" stroke-width="1.1"/>
<line x1="425.3" y1="786.1" x2="427.8" y2="786.1" stroke="#1e1e1e" stroke-width="1.1"/>
<line x1="427.8" y1="699.9" x2="427.8" y2="706" stroke="#1e1e1e" stroke-width="1.1"/>
<line x1="427.8" y1="786.1" x2="427.8" y2="780" stroke="#1e1e1e" stroke-width="1.1"/>
<rect x="418.2" y="732.4" width="44.2" height="22" rx="0" stroke="#1e1e1e" stroke-width="1.6" fill="none"/>
<path d="M418.2,732.4 L418.2,724.6 Q418.2,722.4 420.4,722.4 L425.3,722.4" stroke="#1e1e1e" stroke-width="1.4" fill="none" stroke-linejoin="round"/>
<line x1="418.2" y1="727" x2="462.4" y2="727" stroke="#1e1e1e" stroke-width="1.3"/>
<circle cx="454.9" cy="743.2" r="3.6" stroke="#1e1e1e" stroke-width="1.3" fill="none"/>
<line x1="450" y1="742.9" x2="459" y2="742.9" stroke="#555" stroke-width="0.5"/>
<line x1="454.7" y1="738" x2="454.7" y2="748" stroke="#555" stroke-width="0.5"/>
<rect x="450.4" y="754.6" width="12" height="8.8" rx="0" stroke="#1e1e1e" stroke-width="0.9" fill="none"/>
<line x1="455.7" y1="754.6" x2="455.7" y2="763.4" stroke="#1e1e1e" stroke-width="0.8"/>
<line x1="458.5" y1="754.6" x2="458.5" y2="763.4" stroke="#1e1e1e" stroke-width="0.8"/>
<polyline points="418.2,754.6 418.2,763.3 425.6,763.3 425.6,785.7 429,785.7" stroke="#1e1e1e" stroke-width="1.3" fill="none" stroke-linejoin="round"/>
<polyline points="418.2,732.4 418.2,722.7" stroke="#1e1e1e" stroke-width="1.3" fill="none" stroke-linejoin="round"/>
<polyline points="447.7,754.6 447.7,779" stroke="#1e1e1e" stroke-width="1.2" fill="none" stroke-linejoin="round"/>
<rect x="371.6" y="727.8" width="22" height="26.6" rx="0" stroke="#1e1e1e" stroke-width="1.7" fill="none"/>
<rect x="394" y="708.3" width="10.8" height="19.1" rx="1.5" stroke="#1e1e1e" stroke-width="1.5" fill="none"/>
<polyline points="394,713 361,713 360,718 361,723.3 394,723.3" stroke="#1e1e1e" stroke-width="1.5" fill="none" stroke-linejoin="round"/>
<line x1="362" y1="714.8" x2="392" y2="714.8" stroke="#666" stroke-width="0.5"/>
<line x1="362" y1="721.5" x2="392" y2="721.5" stroke="#666" stroke-width="0.5"/>
<line x1="350" y1="718.2" x2="410" y2="718.2" stroke="#666" stroke-width="0.5" stroke-dasharray="5 2 1 2"/>
<line x1="404.8" y1="717.7" x2="406" y2="717.7" stroke="#1e1e1e" stroke-width="1"/>
<rect x="345" y="760" width="41.6" height="7.4" rx="0" stroke="#1e1e1e" stroke-width="1.5" fill="none"/>
<line x1="362" y1="760" x2="362" y2="767.4" stroke="#1e1e1e" stroke-width="1.2"/>
<line x1="348" y1="763.7" x2="384" y2="763.7" stroke="#666" stroke-width="0.5" stroke-dasharray="4 2 1 2"/>
<rect x="345" y="769" width="35.7" height="11.7" rx="0" stroke="#1e1e1e" stroke-width="1.5" fill="none"/>
<rect x="380.7" y="769" width="5.9" height="6.5" rx="0" stroke="#1e1e1e" stroke-width="1.3" fill="none"/>
<line x1="371" y1="769" x2="371" y2="780.7" stroke="#1e1e1e" stroke-width="1"/>
<line x1="350" y1="775" x2="384" y2="775" stroke="#666" stroke-width="0.5" stroke-dasharray="5 2 1 2"/>
<polyline points="393.6,754.4 393.6,775 390.5,778.1 387,778.1" stroke="#1e1e1e" stroke-width="1.5" fill="none" stroke-linejoin="round"/>
<line x1="345" y1="714.5" x2="360.4" y2="714.5" stroke="#1e1e1e" stroke-width="1.2"/>
<line x1="345" y1="722.4" x2="360.4" y2="722.4" stroke="#1e1e1e" stroke-width="1.2"/>
<line x1="345" y1="724.6" x2="387" y2="724.6" stroke="#1e1e1e" stroke-width="1"/>
<line x1="344.8" y1="727.4" x2="371.6" y2="727.4" stroke="#1e1e1e" stroke-width="1.3"/>
<line x1="344.8" y1="759.4" x2="387" y2="759.4" stroke="#444" stroke-width="1.6"/>
<polyline points="422.3,823.5 422.3,847.2 441.8,847.2 441.8,797.4 447.7,797.4" stroke="#1e1e1e" stroke-width="1.5" fill="none" stroke-linejoin="round"/>
<line x1="422.3" y1="831" x2="441.8" y2="831" stroke="#1e1e1e" stroke-width="1.2"/>
<line x1="422.3" y1="841.4" x2="441.8" y2="841.4" stroke="#1e1e1e" stroke-width="1.2"/>
<line x1="418" y1="836" x2="446" y2="836" stroke="#555" stroke-width="0.5" stroke-dasharray="4 2 1 2"/>
<line x1="409.8" y1="822.3" x2="422.3" y2="823.5" stroke="#1e1e1e" stroke-width="1.5"/>
<line x1="418.6" y1="1010.2" x2="418.6" y2="1076.3" stroke="#333" stroke-width="1.3"/>
<line x1="589.8" y1="1010.2" x2="589.8" y2="1076.3" stroke="#333" stroke-width="1.3"/>
<line x1="653" y1="1010.2" x2="653" y2="1076.3" stroke="#333" stroke-width="1.3"/>
<line x1="716.6" y1="1010.2" x2="716.6" y2="1076.3" stroke="#333" stroke-width="1.3"/>
<line x1="780.5" y1="1010.2" x2="780.5" y2="1076.3" stroke="#333" stroke-width="1.3"/>
<line x1="418.6" y1="1010.2" x2="780.5" y2="1010.2" stroke="#333" stroke-width="1.3"/>
<line x1="418.6" y1="1032.2" x2="780.5" y2="1032.2" stroke="#333" stroke-width="1.3"/>
<line x1="418.6" y1="1054.4" x2="780.5" y2="1054.4" stroke="#333" stroke-width="1.3"/>
<line x1="418.6" y1="1076.3" x2="780.5" y2="1076.3" stroke="#333" stroke-width="1.3"/>
<text x="504.2" y="1027.3" font-size="13.5" fill="#222" text-anchor="middle" font-family="Liberation Sans" font-weight="normal" textLength="66.6" lengthAdjust="spacingAndGlyphs">型号/MODEL</text>
<text x="621.4" y="1027.3" font-size="14.5" fill="#222" text-anchor="middle" font-family="Liberation Sans" font-weight="normal">U</text>
<text x="684.8" y="1027.3" font-size="14.5" fill="#222" text-anchor="middle" font-family="Liberation Sans" font-weight="normal">T</text>
<text x="748.5" y="1027.3" font-size="14.5" fill="#222" text-anchor="middle" font-family="Liberation Sans" font-weight="normal">W</text>
<text x="432.6" y="1048.4" font-size="14" fill="#222" text-anchor="start" font-family="Liberation Sans" font-weight="normal" textLength="144.4" lengthAdjust="spacing">Wave generator-A ø6</text>
<text x="432" y="1070.2" font-size="14" fill="#222" text-anchor="start" font-family="Liberation Sans" font-weight="normal" textLength="144.4" lengthAdjust="spacing">Wave generator-A ø8</text>
<text x="604.3" y="1048.4" font-size="14" fill="#222" text-anchor="start" font-family="Liberation Sans" font-weight="normal" textLength="32" lengthAdjust="spacingAndGlyphs">ø6H7</text>
<text x="604.3" y="1070.2" font-size="14" fill="#222" text-anchor="start" font-family="Liberation Sans" font-weight="normal" textLength="32" lengthAdjust="spacingAndGlyphs">ø8H7</text>
<text x="673" y="1049" font-size="14.5" fill="#222" text-anchor="start" font-family="Liberation Sans" font-weight="normal">7</text>
<text x="682.3" y="1041.8" font-size="7" fill="#222" text-anchor="start" font-family="Liberation Sans" font-weight="bold" textLength="13.6" lengthAdjust="spacingAndGlyphs">+0.1</text>
<text x="685.8" y="1049" font-size="7" fill="#222" text-anchor="start" font-family="Liberation Sans" font-weight="bold">0</text>
<text x="668.5" y="1070.2" font-size="14" fill="#222" text-anchor="start" font-family="Liberation Sans" font-weight="normal" textLength="17.5" lengthAdjust="spacingAndGlyphs">9.4</text>
<text x="687.3" y="1063.5" font-size="7" fill="#222" text-anchor="start" font-family="Liberation Sans" font-weight="bold" textLength="13.6" lengthAdjust="spacingAndGlyphs">+0.1</text>
<text x="690.8" y="1071" font-size="7" fill="#222" text-anchor="start" font-family="Liberation Sans" font-weight="bold">0</text>
<text x="720.8" y="1048.4" font-size="14" fill="#222" text-anchor="start" font-family="Liberation Sans" font-weight="normal" textLength="54" lengthAdjust="spacing">2P9/JS9</text>
<text x="720.8" y="1070.2" font-size="14" fill="#222" text-anchor="start" font-family="Liberation Sans" font-weight="normal" textLength="54" lengthAdjust="spacing">3P9/JS9</text>
</svg></body></html>
